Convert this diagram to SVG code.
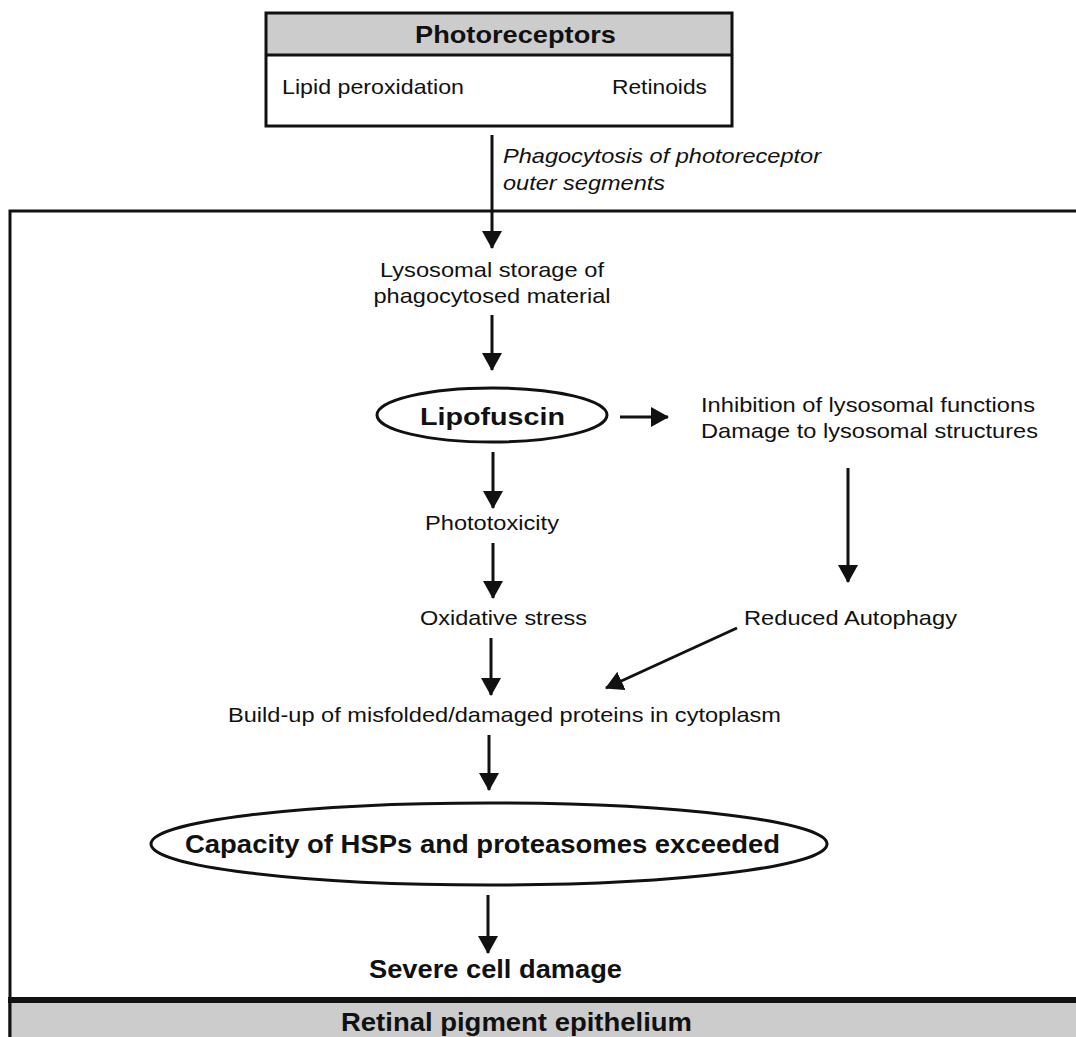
<svg xmlns="http://www.w3.org/2000/svg" width="1076" height="1037" viewBox="0 0 1076 1037">
<defs>
<marker id="ah" markerUnits="userSpaceOnUse" markerWidth="18" markerHeight="20" refX="17" refY="10" orient="auto">
<path d="M0,0 L18,10 L0,20 Z" fill="#111"/>
</marker>
<style>
text{font-family:"Liberation Sans",Arial,sans-serif;fill:#111;}
.n{font-size:21px;}
.b{font-size:25px;font-weight:bold;}
.i{font-size:21px;font-style:italic;}
.c{stroke:#111;stroke-width:3;fill:none;marker-end:url(#ah);}
.sh{stroke:#111;stroke-width:3;fill:#fff;}
</style>
</defs>
<rect width="1076" height="1037" fill="#fff"/>

<g id="rpe">
<path d="M1080,211 H10 V1037" fill="none" stroke="#111" stroke-width="3"/>
<rect x="10" y="1003" width="1070" height="34" fill="#cccccc"/>
<line x1="8" y1="1000" x2="1080" y2="1000" stroke="#111" stroke-width="6"/>
<line x1="10" y1="1000" x2="10" y2="1037" stroke="#111" stroke-width="3"/>
<text class="b" x="341" y="1031" textLength="351" lengthAdjust="spacingAndGlyphs">Retinal pigment epithelium</text>
</g>

<g id="photoreceptors">
<rect x="266" y="13" width="466" height="42" fill="#cccccc"/>
<rect class="sh" x="266" y="13" width="466" height="113" fill="none" style="fill:none"/>
<line x1="266" y1="55" x2="732" y2="55" stroke="#111" stroke-width="3"/>
<text class="b" x="415" y="43" textLength="201" lengthAdjust="spacingAndGlyphs" style="font-size:24px">Photoreceptors</text>
<text class="n" x="282" y="94" textLength="182" lengthAdjust="spacingAndGlyphs">Lipid peroxidation</text>
<text class="n" x="612" y="94" textLength="95" lengthAdjust="spacingAndGlyphs">Retinoids</text>
</g>

<g id="phago-label">
<text class="i" x="503" y="163" textLength="318" lengthAdjust="spacingAndGlyphs">Phagocytosis of photoreceptor</text>
<text class="i" x="503" y="190" textLength="162" lengthAdjust="spacingAndGlyphs">outer segments</text>
</g>

<g id="lysosomal">
<text class="n" x="492" y="277" text-anchor="middle" textLength="224" lengthAdjust="spacingAndGlyphs">Lysosomal storage of</text>
<text class="n" x="492" y="303" text-anchor="middle" textLength="237" lengthAdjust="spacingAndGlyphs">phagocytosed material</text>
</g>

<g id="lipofuscin">
<ellipse class="sh" cx="492" cy="415" rx="115" ry="27"/>
<text class="b" x="420" y="425" textLength="145" lengthAdjust="spacingAndGlyphs" style="font-size:24px">Lipofuscin</text>
</g>

<g id="inhibition">
<text class="n" x="701" y="412" textLength="334" lengthAdjust="spacingAndGlyphs">Inhibition of lysosomal functions</text>
<text class="n" x="701" y="438" textLength="337" lengthAdjust="spacingAndGlyphs">Damage to lysosomal structures</text>
</g>

<g id="phototoxicity">
<text class="n" x="425" y="530" textLength="134" lengthAdjust="spacingAndGlyphs">Phototoxicity</text>
</g>

<g id="oxidative">
<text class="n" x="420" y="625" textLength="167" lengthAdjust="spacingAndGlyphs">Oxidative stress</text>
</g>

<g id="autophagy">
<text class="n" x="744" y="625" textLength="213" lengthAdjust="spacingAndGlyphs">Reduced Autophagy</text>
</g>

<g id="buildup">
<text class="n" x="228" y="722" textLength="553" lengthAdjust="spacingAndGlyphs">Build-up of misfolded/damaged proteins in cytoplasm</text>
</g>

<g id="capacity">
<ellipse class="sh" cx="489" cy="844" rx="338" ry="41"/>
<text class="b" x="185" y="853" textLength="595" lengthAdjust="spacingAndGlyphs">Capacity of HSPs and proteasomes exceeded</text>
</g>

<g id="severe">
<text class="b" x="369" y="978" textLength="253" lengthAdjust="spacingAndGlyphs">Severe cell damage</text>
</g>

<g id="connectors">
<line class="c" x1="492" y1="135" x2="492" y2="248"/>
<line class="c" x1="492" y1="315" x2="492" y2="370"/>
<line class="c" x1="620" y1="417" x2="668" y2="417"/>
<line class="c" x1="493" y1="452" x2="493" y2="508"/>
<line class="c" x1="493" y1="543" x2="493" y2="598"/>
<line class="c" x1="848" y1="468" x2="848" y2="582"/>
<line class="c" x1="491" y1="638" x2="491" y2="695"/>
<line class="c" x1="737" y1="628" x2="606" y2="688"/>
<line class="c" x1="489" y1="735" x2="489" y2="790"/>
<line class="c" x1="488" y1="895" x2="488" y2="953"/>
</g>
</svg>
